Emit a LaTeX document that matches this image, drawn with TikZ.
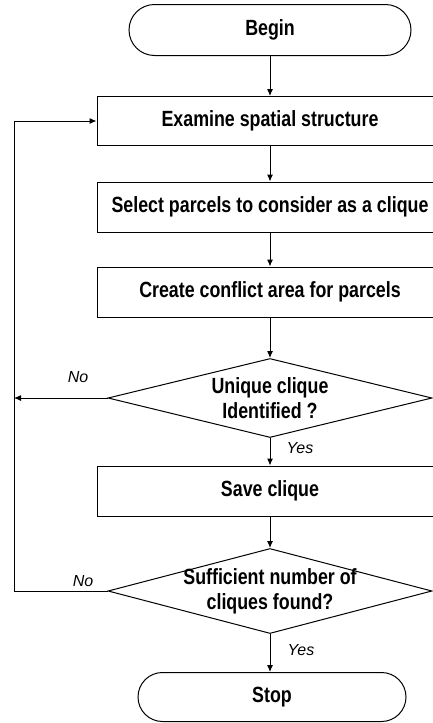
\documentclass[tikz,border=0pt]{standalone}
\usepackage{fontspec}
\setmainfont{Liberation Sans}[FakeStretch=0.81]
\newfontfamily\answerfont{Liberation Sans}
\usepackage{tikz}
\usetikzlibrary{shapes.geometric,shapes.misc,arrows.meta}

\begin{document}
\begin{tikzpicture}[x=1pt,y=-1pt]
  \tikzset{terminal/.style = {shape=rounded rectangle,draw,line width=1pt,minimum width=270pt,minimum height=50pt,inner sep=1pt,font=\fontsize{22}{25}\selectfont\bfseries}}
  \tikzset{process/.style = {shape=rectangle,draw,line width=1pt,minimum width=346pt,minimum height=50pt,inner sep=1pt,font=\fontsize{22}{25}\selectfont\bfseries}}
  \tikzset{decision/.style = {shape=diamond,draw,line width=1pt,aspect=4,minimum width=324pt,minimum height=82pt,inner xsep=-30pt,inner ysep=-2pt,align=center,font=\fontsize{22}{25}\selectfont\bfseries}}
  \tikzset{answer/.style = {font=\answerfont\fontsize{16}{18}\selectfont\itshape}}
  \tikzset{flow/.style = {line width=1pt,-{Latex[length=7pt,width=6pt]}}}
  \clip (0,0) rectangle (433,723);
	\node[terminal,minimum width=284pt,minimum height=51pt] (begin) at (270,30) {Begin};
	\node[process,minimum height=49pt] (examine) at (270,121) {Examine spatial structure};
	\node[process] (select) at (270,207) {Select parcels to consider as a clique};
	\node[process] (create) at (270,292) {Create conflict area for parcels};
	\node[decision,minimum height=79pt] (unique) at (270,398) {Unique clique\\Identified ?};
	\node[process] (save) at (270,491) {Save clique};
	\node[decision,minimum height=85pt] (enough) at (270,591) {Sufficient number of\\cliques found?};
	\node[terminal,minimum height=49pt] (stop) at (272,697) {Stop};
	\coordinate (noleft) at (14,398);
	\coordinate (loopleft) at (14,591);

    \foreach \from/\to in {begin/examine,examine/select,select/create,create/unique,unique/save,save/enough,enough/stop}
    \draw[flow] (\from.south) -- (\from.south |- \to.north);
    \draw[flow] (unique.west) -- (noleft);
    \draw[flow] (enough.west) -- (loopleft) |- (examine.west);
    \node[answer] (no1) at (78,377) {No};
    \node[answer] (no2) at (83,581) {No};
    \node[answer] (yes1) at (300,448) {Yes};
    \node[answer] (yes2) at (301,650) {Yes};
\end{tikzpicture}
\end{document}
